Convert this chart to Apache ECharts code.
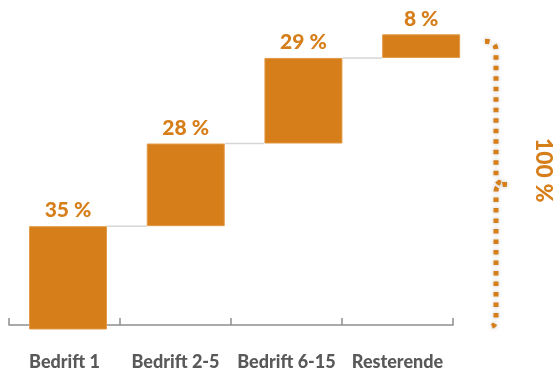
<!DOCTYPE html>
<html>
<head>
<meta charset="utf-8">
<script src="https://cdn.jsdelivr.net/npm/echarts@6/dist/echarts.min.js"></script>
<style>
  html, body { margin: 0; padding: 0; background: #ffffff; }
  #chart { width: 554px; height: 371px; }
</style>
</head>
<body>
<div id="chart"></div>
<script>
// Share of total, per group of companies
const categories = ['Bedrift 1', 'Bedrift 2-5', 'Bedrift 6-15', 'Resterende'];
const shares = [35, 28, 29, 8];

const ORANGE = '#D67E19';
const FONT = 'Lato, "Open Sans", sans-serif';

// Invisible base for each floating bar = running sum of earlier shares
const bases = [];
let run = 0;
shares.forEach(v => { bases.push(run); run += v; });
const total = run;
const BAR_W = 78;

const chart = echarts.init(document.getElementById('chart'), null, { renderer: 'canvas' });

chart.setOption({
  animation: false,
  grid: [
    { left: 9.15, right: 74, top: 34.3, bottom: 41.5 },
    { left: 9, right: 101, top: 34.3, bottom: 41.5 }
  ],
  xAxis: [
    { type: 'category', data: categories, gridIndex: 0, show: false },
    {
      type: 'category', data: categories, gridIndex: 1,
      axisLine: { show: true, lineStyle: { color: '#8f8f8f', width: 1.5 } },
      axisTick: { show: true, inside: true, length: 7, interval: 0, alignWithLabel: false,
                  lineStyle: { color: '#8f8f8f', width: 1.5 } },
      axisLabel: { show: true, interval: 0, color: '#595959', fontFamily: FONT,
                   fontWeight: 900, fontSize: 18, margin: 28 }
    }
  ],
  yAxis: [
    { type: 'value', min: 0, max: 100, gridIndex: 0, show: false },
    { type: 'value', min: 0, max: 100, gridIndex: 1, show: false }
  ],
  series: [
    {
      name: 'base', type: 'bar', stack: 'w', xAxisIndex: 0, yAxisIndex: 0,
      data: bases, barWidth: BAR_W,
      itemStyle: { color: 'transparent' }, silent: true
    },
    {
      name: 'andel', type: 'bar', stack: 'w', xAxisIndex: 0, yAxisIndex: 0,
      data: shares, barWidth: BAR_W,
      itemStyle: { color: ORANGE, borderColor: '#E39A48', borderWidth: 1 },
      label: {
        show: true, position: 'top', distance: 5,
        formatter: p => p.value + ' %',
        color: ORANGE, fontFamily: FONT, fontWeight: 900, fontSize: 21
      }
    },
    {
      // grey connectors between the top of one bar and the foot of the next
      name: 'kobling', type: 'custom', xAxisIndex: 0, yAxisIndex: 0,
      data: shares.slice(0, -1).map((v, i) => [i, bases[i] + v]),
      renderItem: (params, api) => {
        const i = api.value(0);
        const p0 = api.coord([i, api.value(1)]);
        const p1 = api.coord([i + 1, api.value(1)]);
        return {
          type: 'line',
          shape: { x1: p0[0] + BAR_W / 2, y1: p0[1], x2: p1[0] - BAR_W / 2, y2: p1[1] },
          style: { stroke: '#d6d6d6', lineWidth: 1.5 }
        };
      },
      z: 1
    },
    {
      // dotted brace spanning the whole stack, with its total
      name: 'total', type: 'custom', xAxisIndex: 1, yAxisIndex: 1,
      data: [[categories.length - 1, total]],
      renderItem: (params, api) => {
        const lastCenter = api.coord([api.value(0), 0]);
        const band = api.size([1, 0])[0];
        const axisEnd = lastCenter[0] + band / 2;
        const yBot = api.coord([0, 0])[1];
        const yTop = api.coord([0, api.value(1)])[1];
        const x = axisEnd + 43;
        const top = yTop + 7;
        const bot = yBot + 2;
        const mid = (top + bot) / 2;
        const d = 'M' + (x - 11) + ' ' + top +
          ' Q' + x + ' ' + top + ' ' + x + ' ' + (top + 9) +
          ' L' + x + ' ' + (mid - 7) +
          ' Q' + x + ' ' + mid + ' ' + (x + 11) + ' ' + mid +
          ' M' + (x + 11) + ' ' + mid +
          ' Q' + x + ' ' + mid + ' ' + x + ' ' + (mid + 7) +
          ' L' + x + ' ' + (bot - 8) +
          ' Q' + x + ' ' + bot + ' ' + (x - 8) + ' ' + bot;
        return {
          type: 'group',
          children: [
            {
              type: 'path',
              shape: { pathData: d },
              style: {
                fill: null, stroke: ORANGE, lineWidth: 5, lineDash: [4.5, 6],
                lineCap: 'butt',
                shadowBlur: 4, shadowColor: 'rgba(0,0,0,0.25)'
              }
            },
            {
              type: 'text',
              x: x + 47, y: mid - 14,
              rotation: -Math.PI / 2,
              style: {
                text: api.value(1) + ' %',
                fill: ORANGE, font: '900 23px ' + FONT,
                align: 'center', verticalAlign: 'middle'
              }
            }
          ]
        };
      },
      z: 3
    }
  ]
});
</script>
</body>
</html>
